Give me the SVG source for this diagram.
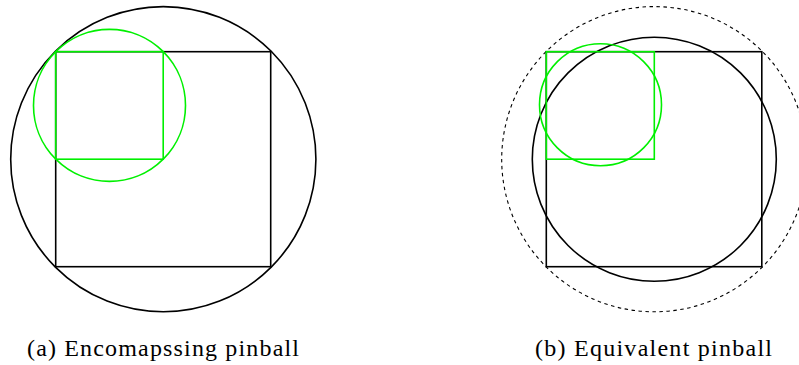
<svg xmlns="http://www.w3.org/2000/svg" width="799" height="365" viewBox="0 0 799 365">
<style>
.k{fill:none;stroke:#000;stroke-width:1.6}
.g{fill:none;stroke:#00f000;stroke-width:1.6}
.d{fill:none;stroke:#000;stroke-width:1.1;stroke-dasharray:3.5 3.5}
.t{font-family:"Liberation Serif","DejaVu Serif",serif;font-size:24px;fill:#000}
</style>
<rect width="799" height="365" fill="#fff"/>
<g id="fig-a">
<circle class="k" cx="163.3" cy="159.2" r="152.6"/>
<rect class="k" x="55.7" y="51.7" width="215" height="215"/>
<rect class="g" x="55.7" y="51.7" width="107.5" height="107.5"/>
<circle class="g" cx="109.5" cy="105.4" r="76"/>
<text class="t" x="27" y="356" textLength="272" lengthAdjust="spacing">(a) Encomapssing pinball</text>
</g>
<g id="fig-b">
<circle class="d" cx="654.3" cy="159.2" r="152.6"/>
<circle class="k" cx="654.3" cy="159.2" r="122"/>
<rect class="k" x="546.3" y="51.7" width="215.5" height="215"/>
<rect class="g" x="546.3" y="51.7" width="108" height="107.5"/>
<circle class="g" cx="600.5" cy="104.7" r="61"/>
<text class="t" x="535" y="356" textLength="237" lengthAdjust="spacing">(b) Equivalent pinball</text>
</g>
</svg>
